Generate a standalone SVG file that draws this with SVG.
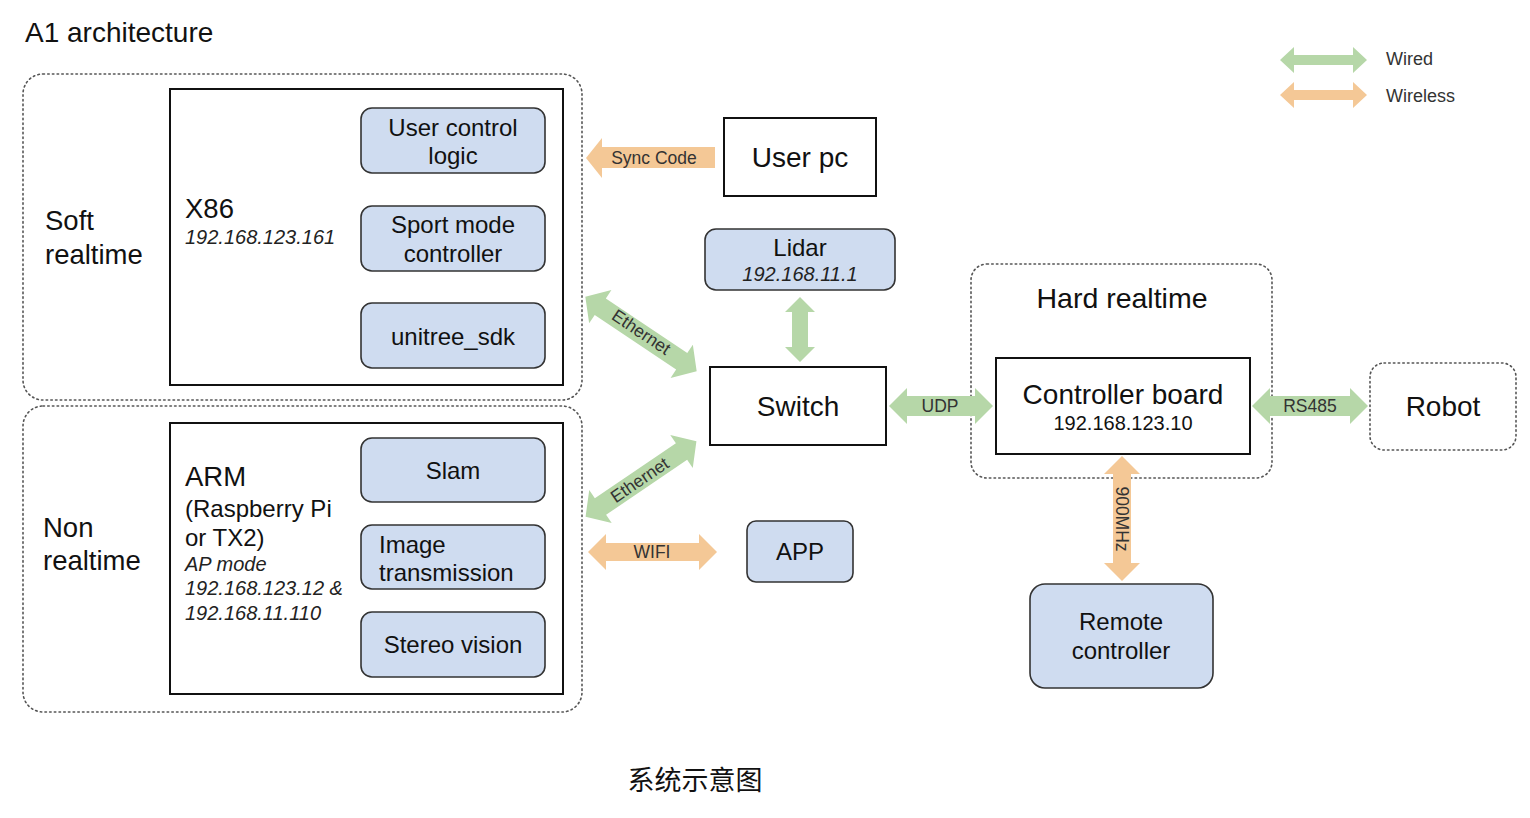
<svg xmlns="http://www.w3.org/2000/svg" width="1530" height="818" viewBox="0 0 1530 818">
<style>
text{font-family:"Liberation Sans",Arial,sans-serif;fill:#111}
.grp{fill:none;stroke:#555;stroke-width:1.6;stroke-dasharray:1.5 3.2;stroke-linecap:round}
.box{fill:#fff;stroke:#111;stroke-width:2}
.sub{fill:#cfdcf0;stroke:#333;stroke-width:1.6}
.wired{fill:#b6d7a8}
.wless{fill:#f4c896}
.big{font-size:27.5px}
.mid{font-size:24px}
.ip{font-size:20px;font-style:italic;fill:#222}
.lbl{font-size:17.5px;fill:#333}
.c{text-anchor:middle}
</style>
<rect width="1530" height="818" fill="#fff"/>
<text x="25" y="42" style="font-size:28px">A1 architecture</text>

<g id="legend">
<polygon class="wired" points="1280,60 1294,47 1294,55 1353,55 1353,47 1367,60 1353,73 1353,65 1294,65 1294,73"/>
<polygon class="wless" points="1280,95 1294,82 1294,90 1353,90 1353,82 1367,95 1353,108 1353,100 1294,100 1294,108"/>
<text x="1386" y="65" style="font-size:18px;fill:#333">Wired</text>
<text x="1386" y="102" style="font-size:18px;fill:#333">Wireless</text>
</g>

<g id="soft-realtime">
<rect class="grp" x="23" y="74" width="559" height="326" rx="20"/>
<text x="45" y="230" class="big">Soft</text>
<text x="45" y="264" class="big">realtime</text>
</g>
<g id="x86">
<rect class="box" x="170" y="89" width="393" height="296"/>
<text x="185" y="218" class="big">X86</text>
<text x="185" y="244" class="ip">192.168.123.161</text>
</g>
<g id="user-control-logic">
<rect class="sub" x="361" y="108" width="184" height="65" rx="11"/>
<text x="453" y="136" class="mid c">User control</text>
<text x="453" y="164" class="mid c">logic</text>
</g>
<g id="sport-mode-controller">
<rect class="sub" x="361" y="206" width="184" height="65" rx="11"/>
<text x="453" y="233" class="mid c">Sport mode</text>
<text x="453" y="262" class="mid c">controller</text>
</g>
<g id="unitree-sdk">
<rect class="sub" x="361" y="303" width="184" height="65" rx="11"/>
<text x="453" y="345" class="mid c">unitree_sdk</text>
</g>

<g id="non-realtime">
<rect class="grp" x="23" y="406" width="559" height="306" rx="20"/>
<text x="43" y="537" class="big">Non</text>
<text x="43" y="570" class="big">realtime</text>
</g>
<g id="arm">
<rect class="box" x="170" y="423" width="393" height="271"/>
<text x="185" y="486" class="big">ARM</text>
<text x="185" y="517" class="mid">(Raspberry Pi</text>
<text x="185" y="546" class="mid">or TX2)</text>
<text x="185" y="571" class="ip">AP mode</text>
<text x="185" y="595" class="ip">192.168.123.12 &amp;</text>
<text x="185" y="620" class="ip">192.168.11.110</text>
</g>
<g id="slam">
<rect class="sub" x="361" y="438" width="184" height="64" rx="11"/>
<text x="453" y="479" class="mid c">Slam</text>
</g>
<g id="image-transmission">
<rect class="sub" x="361" y="525" width="184" height="64" rx="11"/>
<text x="379" y="553" class="mid">Image</text>
<text x="379" y="581" class="mid">transmission</text>
</g>
<g id="stereo-vision">
<rect class="sub" x="361" y="612" width="184" height="65" rx="11"/>
<text x="453" y="653" class="mid c">Stereo vision</text>
</g>

<g id="user-pc">
<rect class="box" x="724" y="118" width="152" height="78"/>
<text x="800" y="167" class="c" style="font-size:28px">User pc</text>
</g>
<g id="lidar">
<rect class="sub" x="705" y="229" width="190" height="61" rx="11"/>
<text x="800" y="256" class="mid c">Lidar</text>
<text x="800" y="281" class="ip c">192.168.11.1</text>
</g>
<g id="switch">
<rect class="box" x="710" y="367" width="176" height="78"/>
<text x="798" y="416" class="c" style="font-size:28px">Switch</text>
</g>
<g id="app">
<rect class="sub" x="747" y="521" width="106" height="61" rx="9"/>
<text x="800" y="560" class="mid c">APP</text>
</g>
<g id="hard-realtime">
<rect class="grp" x="971" y="264" width="301" height="214" rx="16"/>
<text x="1122" y="308" class="c" style="font-size:28.5px">Hard realtime</text>
</g>
<g id="controller-board">
<rect class="box" x="996" y="358" width="254" height="96"/>
<text x="1123" y="404" class="c" style="font-size:28px">Controller board</text>
<text x="1123" y="430" class="c" style="font-size:20px">192.168.123.10</text>
</g>
<g id="robot">
<rect class="grp" x="1370" y="363" width="146" height="87" rx="14"/>
<text x="1443" y="416" class="c" style="font-size:28px">Robot</text>
</g>
<g id="remote-controller">
<rect class="sub" x="1030" y="584" width="183" height="104" rx="15"/>
<text x="1121" y="630" class="mid c">Remote</text>
<text x="1121" y="659" class="mid c">controller</text>
</g>

<g id="connectors">
<polygon class="wless" points="586,158 602,138 602,147 715,147 715,168 602,168 602,178"/>
<text x="654" y="164" class="lbl c">Sync Code</text>

<polygon class="wired" transform="translate(641,334) rotate(33.8)" points="-67,0 -49,-20 -49,-10 49,-10 49,-20 67,0 49,20 49,10 -49,10 -49,20"/>
<text class="lbl c" transform="translate(638,337) rotate(33.8)" x="0" y="0">Ethernet</text>

<polygon class="wired" transform="translate(641,479) rotate(-34.2)" points="-67,0 -49,-20 -49,-10 49,-10 49,-20 67,0 49,20 49,10 -49,10 -49,20"/>
<text class="lbl c" transform="translate(643,485) rotate(-34.2)" x="0" y="0">Ethernet</text>

<polygon class="wless" points="588,552 606,534 606,543 699,543 699,534 717,552 699,570 699,561 606,561 606,570"/>
<text x="652" y="558" class="lbl c">WIFI</text>

<polygon class="wired" points="800,297 815,312 808,312 808,347 815,347 800,362 785,347 792,347 792,312 785,312"/>

<polygon class="wired" points="889,406 907,388 907,396 975,396 975,388 993,406 975,424 975,416 907,416 907,424"/>
<text x="940" y="412" class="lbl c">UDP</text>

<polygon class="wired" points="1252,406 1270,388 1270,396 1350,396 1350,388 1368,406 1350,424 1350,416 1270,416 1270,424"/>
<text x="1310" y="412" class="lbl c">RS485</text>

<polygon class="wless" points="1122,456 1140,474 1131,474 1131,563 1140,563 1122,581 1104,563 1113,563 1113,474 1104,474"/>
<text class="lbl c" transform="translate(1116,519) rotate(90)" x="0" y="0">900MHz</text>
</g>

<text x="695" y="790" class="c" style="font-size:27px;font-family:'Liberation Sans','Noto Sans CJK SC',sans-serif">系统示意图</text>
</svg>
